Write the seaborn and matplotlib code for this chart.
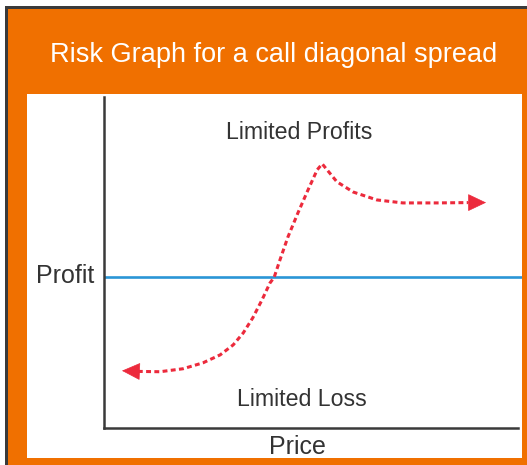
import matplotlib
matplotlib.use('Agg')
import matplotlib.pyplot as plt
from matplotlib.patches import Rectangle
import seaborn as sns
import pandas as pd

# risk graph data (price vs profit)
price = [8.1, 13.4, 18.9, 23.7, 27.8, 30.9, 33.3, 35.6, 37.8, 39.7, 40.7, 42.1,
         44.0, 46.4, 48.8, 51.0, 52.2, 55.7, 59.6, 65.3, 71.5, 79.7, 87.1]
profit = [-28.4, -28.5, -27.6, -25.8, -23.4, -20.4, -16.8, -12.2, -6.8, -1.7, 0.0, 5.3,
          12.2, 19.5, 26.4, 32.5, 34.3, 28.9, 25.8, 23.4, 22.5, 22.5, 22.6]
arrow_left = (4.3, -28.2)
arrow_right = (91.4, 22.6)
breakeven = 0.0

title = 'Risk Graph for a call diagonal spread'
ylabel = 'Profit'
xlabel = 'Price'
top_note = 'Limited Profits'
bottom_note = 'Limited Loss'

df = pd.DataFrame({'price': price, 'profit': profit})

sns.set_style('white')
plt.rcParams['font.family'] = ['Liberation Sans', 'DejaVu Sans']

W, H = 527, 465
red = '#ec2a3c'
blue = '#2a96d6'
dark = '#333333'
orange = '#f07000'

fig = plt.figure(figsize=(W / 100, H / 100), dpi=100, facecolor='white')

# frame: dark edge, orange band, white panel
fig.add_artist(Rectangle((5 / W, 0), 1, (H - 6) / H, transform=fig.transFigure,
                         facecolor='#3a3a3a', edgecolor='none', zorder=0))
fig.add_artist(Rectangle((8 / W, 0), 1, (H - 9) / H, transform=fig.transFigure,
                         facecolor=orange, edgecolor='none', zorder=0))
fig.add_artist(Rectangle((27 / W, 7 / H), (522 - 27) / W, (458 - 94) / H,
                         transform=fig.transFigure, facecolor='white',
                         edgecolor='none', zorder=0))

# axes in pixel box: left 104, right 522, top 97, bottom 428
ax = fig.add_axes([104 / W, (H - 428) / H, (522 - 104) / W, (428 - 97) / H])
ax.set_facecolor('none')
ax.set_xlim(0, 100)
ax.set_ylim(-45.5, 54.5)

ax.axhline(breakeven, color=blue, linewidth=1.9, zorder=2)

sns.lineplot(data=df, x='price', y='profit', sort=False, color=red, linewidth=2.2,
             linestyle=(0, (1.6, 1.1)), dash_capstyle='butt', ax=ax, zorder=3)

head = dict(arrowstyle='-|>,head_length=0.8,head_width=0.38', mutation_scale=15,
            color=red, lw=0.5, shrinkA=0, shrinkB=0)
ax.annotate('', xy=arrow_left, xytext=(price[0], profit[0]), arrowprops=head, zorder=4)
ax.annotate('', xy=arrow_right, xytext=(price[-1], profit[-1]), arrowprops=head, zorder=4)

for s in ['top', 'right']:
    ax.spines[s].set_visible(False)
for s in ['left', 'bottom']:
    ax.spines[s].set_color('#3a3a3a')
    ax.spines[s].set_linewidth(1.8)
ax.spines['bottom'].set_bounds(0, (518 - 104) / 4.18)
ax.set_xticks([])
ax.set_yticks([])
ax.set_xlabel('')
ax.set_ylabel('')

# texts (positions in pixels from top-left, baseline)
def put(txt, x, y, size, color=dark):
    fig.text(x / W, 1 - y / H, txt, ha='center', va='baseline', fontsize=size, color=color)

put(title, 273.5, 61.5, 19.5, 'white')
put(top_note, 299, 139.3, 16.7)
put(bottom_note, 302, 406, 16.7)
put(xlabel, 297.5, 454, 18)
put(ylabel, 65.5, 283.3, 18)

fig.savefig('out.png', dpi=100, facecolor='white')
